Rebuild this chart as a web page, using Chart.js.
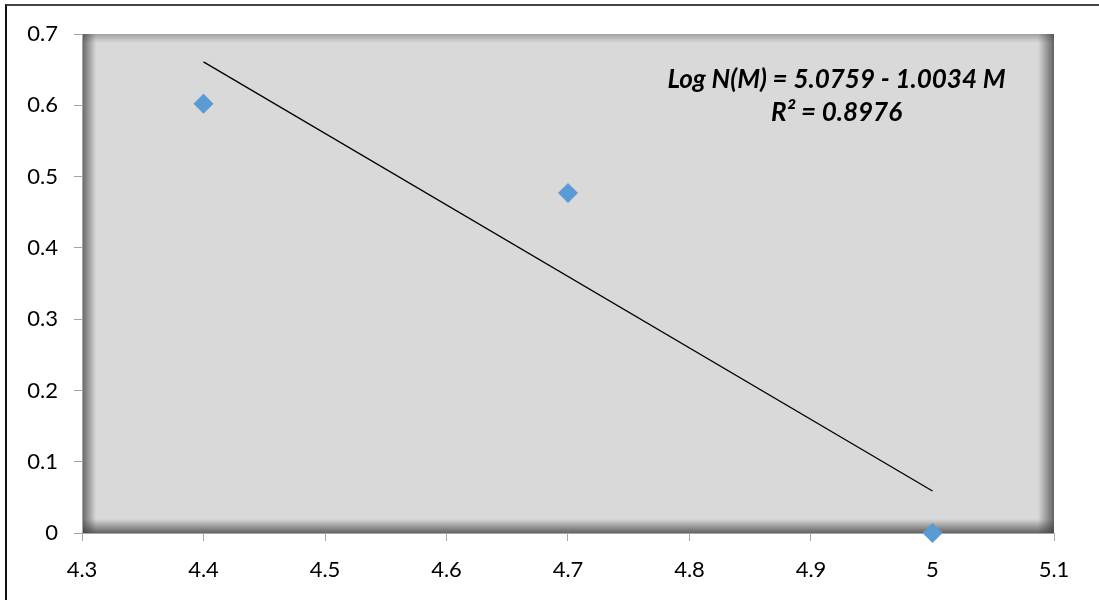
<!DOCTYPE html>
<html>
<head>
<meta charset="utf-8">
<script src="https://cdn.jsdelivr.net/npm/chart.js"></script>
<style>
  html, body { margin: 0; padding: 0; background: #fff; }
  #wrap { position: relative; width: 1099px; height: 600px; }
  #frame { position: absolute; left: 5px; top: 4px; right: 0; bottom: 0;
           border-left: 2px solid #111; border-top: 2px solid #444; pointer-events: none; }
</style>
</head>
<body>
<div id="wrap">
  <canvas id="myChart" width="1099" height="600"></canvas>
  <div id="frame"></div>
</div>
<script>
const magnitudes = [4.4, 4.7, 5.0];
const logCounts = [0.602, 0.477, 0.0];
const fitIntercept = 5.0759;
const fitSlope = -1.0034;
const equationLines = ['Log N(M) = 5.0759 - 1.0034 M', 'R\u00b2 = 0.8976'];

const fitStart = magnitudes[0];
const fitEnd = magnitudes[magnitudes.length - 1];
const trendPoints = [fitStart, fitEnd].map(m => ({ x: m, y: fitIntercept + fitSlope * m }));

// gray plot area with the Excel-like inner shadow on the edges
const plotBackground = {
    id: 'plotBackground',
    beforeDraw(chart) {
        const { ctx, chartArea: a } = chart;
        ctx.save();
        ctx.fillStyle = '#d9d9d9';
        ctx.fillRect(a.left, a.top, a.right - a.left, a.bottom - a.top);

        function edge(x0, y0, x1, y1, alpha, rx, ry, rw, rh) {
            const g = ctx.createLinearGradient(x0, y0, x1, y1);
            g.addColorStop(0, 'rgba(60,60,60,' + alpha + ')');
            g.addColorStop(1, 'rgba(60,60,60,0)');
            ctx.fillStyle = g;
            ctx.fillRect(rx, ry, rw, rh);
        }
        const w = a.right - a.left, h = a.bottom - a.top;
        edge(a.left, 0, a.left + 14, 0, 0.75, a.left, a.top, 14, h);
        edge(a.right, 0, a.right - 16, 0, 0.75, a.right - 16, a.top, 16, h);
        edge(0, a.bottom, 0, a.bottom - 14, 0.75, a.left, a.bottom - 14, w, 14);
        edge(0, a.top, 0, a.top + 9, 0.35, a.left, a.top, w, 9);
        ctx.restore();
    }
};

const equationLabel = {
    id: 'equationLabel',
    afterDatasetsDraw(chart) {
        const { ctx } = chart;
        const cx = chart.scales.x.getPixelForValue(4.921);
        ctx.save();
        ctx.fillStyle = '#000';
        ctx.font = 'italic bold 26px Lato';
        ctx.textAlign = 'center';
        ctx.textBaseline = 'middle';
        ctx.fillText(equationLines[0], cx, 80);
        ctx.fillText(equationLines[1], cx, 113);
        ctx.restore();
    }
};

const tickFont = { family: 'Lato', size: 22 };

new Chart(document.getElementById('myChart').getContext('2d'), {
    type: 'scatter',
    data: {
        datasets: [{
            label: 'Log N(M)',
            data: magnitudes.map((m, i) => ({ x: m, y: logCounts[i] })),
            pointStyle: 'rectRot',
            pointRadius: 10,
            pointHoverRadius: 10,
            backgroundColor: '#5b9bd5',
            borderColor: '#5b9bd5',
            borderWidth: 0,
            clip: false
        }, {
            label: 'Trend',
            type: 'line',
            data: trendPoints,
            borderColor: '#000',
            borderWidth: 1.3,
            pointRadius: 0,
            fill: false
        }]
    },
    options: {
        responsive: false,
        animation: false,
        layout: { padding: { left: 0, top: 34, right: 45, bottom: 0 } },
        plugins: {
            legend: { display: false },
            tooltip: { enabled: false }
        },
        scales: {
            x: {
                type: 'linear',
                min: 4.3,
                max: 5.1,
                ticks: { stepSize: 0.1, color: '#000', font: tickFont, padding: 16,
                         callback: v => +v.toFixed(1) },
                grid: { drawOnChartArea: false, color: '#a6a6a6', tickLength: 8 },
                border: { color: '#a6a6a6', width: 1 },
                afterFit(scale) { scale.height = 67; }
            },
            y: {
                min: 0,
                max: 0.7,
                ticks: { stepSize: 0.1, color: '#000', font: tickFont, padding: 16,
                         callback: v => +v.toFixed(1) },
                grid: { drawOnChartArea: false, color: '#a6a6a6', tickLength: 8 },
                border: { color: '#a6a6a6', width: 1 },
                afterFit(scale) { scale.width = 82; }
            }
        }
    },
    plugins: [plotBackground, equationLabel]
});
</script>
</body>
</html>
